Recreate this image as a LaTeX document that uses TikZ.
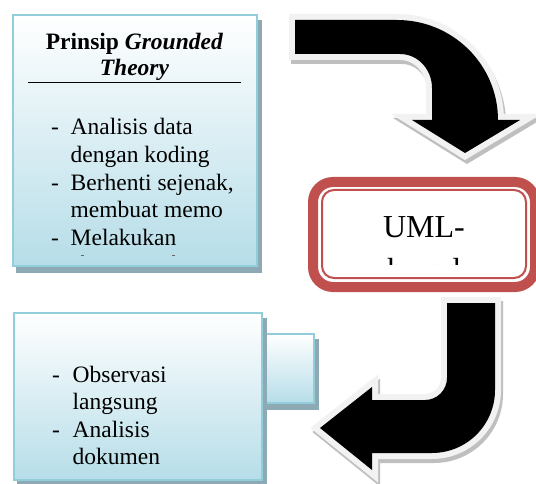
\documentclass[tikz,border=0pt]{standalone}
\usepackage{fontspec}
\setmainfont{Liberation Serif}
\definecolor{boxborder}{HTML}{92CDDC}
\definecolor{boxbottom}{HTML}{B6DDE8}
\definecolor{boxshadow}{HTML}{8DA9B4}
\definecolor{umlred}{HTML}{C0504D}
\definecolor{rim}{HTML}{F2F2F2}
\definecolor{rimshadow}{HTML}{BFBFBF}
\tikzset{
  shadowbox/.style={fill=boxshadow},
  gradbox/.style={rectangle, top color=white, bottom color=boxbottom, draw=boxborder, line width=2pt, inner sep=0pt},
  txt/.style={anchor=base west, inner sep=0pt, font=\fontsize{23.5}{27.5}\selectfont},
  ttl/.style={anchor=base, inner sep=0pt, font=\fontsize{23.5}{27.5}\selectfont\bfseries},
  umltxt/.style={anchor=base, inner sep=0pt, font=\fontsize{32}{40}\selectfont},
  bigarrow/.style={fill=black,
    preaction={draw=rimshadow, fill=rimshadow, line width=12pt, line join=miter, transform canvas={xshift=2pt, yshift=-4pt}},
    preaction={draw=rim, fill=rim, line width=12pt, line join=miter}},
}
\begin{document}
\begin{tikzpicture}[x=1pt,y=-1pt]
\useasboundingbox (0,0) rectangle (536,484);
\fill[white] (0,0) rectangle (536,484);

% top curved arrow
\path[bigarrow] (295,20) -- (397,20)
  .. controls (452.8,20) and (498,64.8) .. (498,120)
  -- (520,120) -- (465,153) -- (412,120) -- (432,120) -- (432,88)
  .. controls (432,69.2) and (417.7,54) .. (400,54)
  -- (295,54) -- cycle;

% bottom curved arrow
\path[bigarrow] (447,303) -- (495,303) -- (495,390)
  .. controls (495,424.8) and (466.8,453) .. (432,453)
  -- (372,453) -- (372,470) -- (320,428) -- (372,387) -- (372,400)
  -- (425,400)
  .. controls (437.1,400) and (447,390.1) .. (447,378) -- cycle;

% top-left box
\fill[shadowbox] (16,20) rectangle (262,273);
\node[gradbox, minimum width=244pt, minimum height=251pt] (box1) at (135,140.5) {};
\node[ttl] (t1) at (134.5,50) {Prinsip \textit{Grounded}};
\node[ttl] (t2) at (134.5,76) {\textit{Theory}};
\coordinate (ul1) at (28,83);
\coordinate (ul2) at (241,83);
\draw[line width=1pt] (ul1) -- (ul2);
\node[txt] (d1) at (51,135) {-};
\node[txt] (a1) at (70.5,135) {Analisis data};
\node[txt] (a2) at (70.5,162.6) {dengan koding};
\node[txt] (d2) at (51,190.2) {-};
\node[txt] (a3) at (70.5,190.2) {Berhenti sejenak,};
\node[txt] (a4) at (70.5,217.8) {membuat memo};
\node[txt] (d3) at (51,245.4) {-};
\node[txt] (a5) at (70.5,245.4) {Melakukan};
\fill[black!60] (81,254.5) rectangle (84,255.5);
\fill[black!60] (172,254.5) rectangle (175,255.5);

% small box behind bottom box
\fill[shadowbox] (255,339) rectangle (319,410);
\node[gradbox, minimum width=62pt, minimum height=69pt] (box3) at (283,368.5) {};

% bottom-left box
\fill[shadowbox] (17,318) rectangle (267,487);
\node[gradbox, minimum width=248pt, minimum height=167pt] (box2) at (138,396.5) {};
\node[txt] (d4) at (52,382) {-};
\node[txt] (b1) at (72.5,382) {Observasi};
\node[txt] (b2) at (72.5,409.6) {langsung};
\node[txt] (d5) at (52,437.2) {-};
\node[txt] (b3) at (72.5,437.2) {Analisis};
\node[txt] (b4) at (72.5,464.8) {dokumen};

% UML box
\draw[umlred, line width=10pt, rounded corners=20pt, fill=white] (313,182) rectangle (535,287);
\draw[umlred, line width=2pt, rounded corners=12pt] (322,190) rectangle (526,278);
\begin{scope}
  \clip (320,188) rectangle (528,264);
  \node[umltxt] (u1) at (424,237) {UML-};
  \node[umltxt] (u2) at (424,280) {based};
\end{scope}
\end{tikzpicture}
\end{document}
